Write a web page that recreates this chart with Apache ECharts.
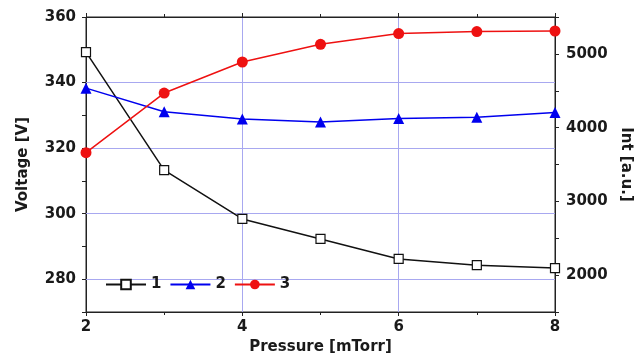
<!DOCTYPE html>
<html><head><meta charset="utf-8">
<script src="https://cdn.jsdelivr.net/npm/echarts@6/dist/echarts.min.js"></script>
<style>html,body{margin:0;padding:0;background:#fff}#c{width:638px;height:354px}</style>
</head><body><div id="c"></div>
<script>
const pressure = [2, 3, 4, 5, 6, 7, 8];
const series1 = [349.3, 313.3, 298.4, 292.3, 286.2, 284.3, 283.4];
const series2 = [338.3, 331.1, 328.9, 328.0, 329.0, 329.4, 330.9];
const series3 = [3661, 4469, 4890, 5130, 5275, 5302, 5310];
const names = ['1', '2', '3'];
const voltageTicks = [280, 300, 320, 340, 360];
const intTicks = [2000, 3000, 4000, 5000];

const font = '"DejaVu Sans", Arial, sans-serif';
const lab = {color:'#1a1a1a', fontWeight:'bold', fontSize:15, fontFamily:font};
const gridColor = '#a8a8f0';
const chart = echarts.init(document.getElementById('c'));
const pair = a => pressure.map((x,i)=>[x,a[i]]);
chart.setOption({
  animation:false,
  grid:{left:86, right:83, top:17, bottom:42, show:true, borderColor:'#222', borderWidth:1,
    containLabel:false, outerBoundsMode:'none'},
  legend:{left:100, top:272, itemWidth:40, itemHeight:12, itemGap:8,
    textStyle:Object.assign({}, lab, {fontSize:15}), data:names},
  xAxis:[{type:'value', min:2, max:8, interval:2, position:'bottom',
    name:'Pressure [mTorr]', nameLocation:'middle', nameGap:23,
    nameTextStyle:Object.assign({}, lab, {fontSize:15}),
    axisLine:{lineStyle:{color:'#222'}}, axisTick:{length:4, lineStyle:{color:'#222'}},
    minorTick:{show:true, splitNumber:2, length:3, lineStyle:{color:'#222'}},
    axisLabel:Object.assign({}, lab, {margin:8}),
    splitLine:{show:true, lineStyle:{color:gridColor, width:1}}},
   {type:'value', min:2, max:8, interval:2, position:'top',
    axisLine:{lineStyle:{color:'#222'}}, axisTick:{length:4, lineStyle:{color:'#222'}},
    minorTick:{show:true, splitNumber:2, length:3, lineStyle:{color:'#222'}},
    axisLabel:{show:false}, splitLine:{show:false}}],
  yAxis:[{type:'value', min:270, max:360, interval:10, position:'left',
    name:'Voltage [V]', nameLocation:'middle', nameGap:55, nameRotate:90,
    nameTextStyle:Object.assign({}, lab, {fontSize:15}),
    axisLine:{show:true, lineStyle:{color:'#222'}}, axisTick:{show:true, length:4, lineStyle:{color:'#222'}},
    axisLabel:Object.assign({}, lab, {margin:10,
      formatter: v => (voltageTicks.indexOf(v) >= 0 ? String(v) : '')}),
    splitLine:{show:false}},
   {type:'value', min:1500, max:5500, interval:500, position:'right',
    name:'Int [a.u.]', nameLocation:'middle', nameGap:54, nameRotate:-90,
    nameTextStyle:Object.assign({}, lab, {fontSize:15}),
    axisLine:{show:true, lineStyle:{color:'#222'}}, axisTick:{show:true, length:4, lineStyle:{color:'#222'}},
    axisLabel:Object.assign({}, lab, {margin:11,
      formatter: v => (intTicks.indexOf(v) >= 0 ? String(v) : '')}),
    splitLine:{show:false}}],
  series:[
    {name:names[0], type:'line', yAxisIndex:0, data:pair(series1), symbol:'rect', symbolSize:9, z:3,
     itemStyle:{color:'#fff', borderColor:'#111', borderWidth:1.2}, lineStyle:{color:'#111', width:1.5},
     markLine:{silent:true, symbol:['none','none'], label:{show:false}, z:1,
       lineStyle:{color:gridColor, width:1, type:'solid'},
       data: voltageTicks.filter(v => v < 360).map(v => ({yAxis:v}))}},
    {name:names[1], type:'line', yAxisIndex:0, data:pair(series2), symbol:'triangle', symbolSize:11, z:3,
     itemStyle:{color:'#0000ee'}, lineStyle:{color:'#0000ee', width:1.5}},
    {name:names[2], type:'line', yAxisIndex:1, data:pair(series3), symbol:'circle', symbolSize:11, z:3,
     itemStyle:{color:'#ee1111'}, lineStyle:{color:'#ee1111', width:1.5}}
  ]
});
</script></body></html>
